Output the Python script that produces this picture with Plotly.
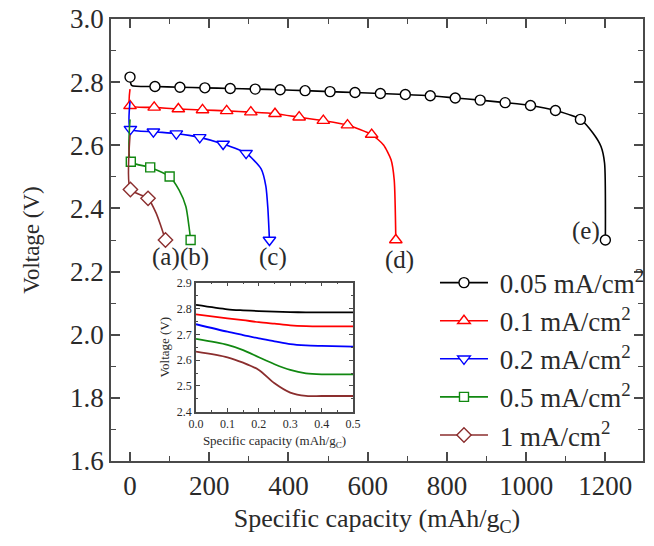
import plotly.graph_objects as go

# ---- main discharge curves: capacity (mAh/gC) vs voltage (V) ----
# each series: full curve path, plus the indices of the points that carry a symbol
cap_e = [0, 4, 63, 126, 189, 253, 316, 379, 442, 505, 568, 632, 695, 758, 821, 884, 947, 1011, 1074, 1137, 1169, 1189, 1198, 1200]
volt_e = [2.816, 2.790, 2.786, 2.784, 2.782, 2.780, 2.778, 2.776, 2.773, 2.770, 2.767, 2.764, 2.761, 2.757, 2.750, 2.743, 2.735, 2.726, 2.710, 2.682, 2.638, 2.596, 2.543, 2.300]
mark_e = [0] + list(range(2, 20)) + [23]

cap_d = [0, 0, 61, 122, 183, 244, 305, 366, 427, 488, 549, 610, 640, 659, 667, 671]
volt_d = [2.778, 2.725, 2.720, 2.715, 2.712, 2.709, 2.705, 2.700, 2.689, 2.678, 2.664, 2.634, 2.601, 2.554, 2.490, 2.300]
mark_d = [1, 2, 3, 4, 5, 6, 7, 8, 9, 10, 11, 15]

cap_c = [0, 1, 59, 117, 176, 235, 293, 331, 343, 348, 352]
volt_c = [2.739, 2.651, 2.643, 2.637, 2.625, 2.604, 2.575, 2.525, 2.470, 2.400, 2.300]
mark_c = [1, 2, 3, 4, 5, 6, 10]

cap_b = [0, 2, 51, 100, 124, 141, 149, 153]
volt_b = [2.682, 2.548, 2.530, 2.501, 2.458, 2.406, 2.342, 2.300]
mark_b = [1, 2, 3, 7]

cap_a = [0, 1, 45.5, 66, 78.5, 89.5]
volt_a = [2.633, 2.460, 2.432, 2.385, 2.342, 2.300]
mark_a = [1, 2, 5]

# ---- inset: initial part of each curve ----
ins_cap = [0, 0.1, 0.15, 0.2, 0.25, 0.3, 0.35, 0.4, 0.5]
ins_e = [2.814, 2.797, 2.793, 2.790, 2.788, 2.786, 2.785, 2.785, 2.785]
ins_d = [2.777, 2.762, 2.755, 2.747, 2.741, 2.735, 2.732, 2.731, 2.731]
ins_c = [2.739, 2.710, 2.697, 2.684, 2.673, 2.662, 2.657, 2.655, 2.652]
ins_b = [2.682, 2.659, 2.639, 2.611, 2.584, 2.562, 2.549, 2.545, 2.545]
ins_a = [2.633, 2.611, 2.590, 2.562, 2.510, 2.474, 2.461, 2.461, 2.461]

legend_names = ["0.05 mA/cm<sup>2</sup>", "0.1 mA/cm<sup>2</sup>", "0.2 mA/cm<sup>2</sup>",
                "0.5 mA/cm<sup>2</sup>", "1 mA/cm<sup>2</sup>"]
curve_tags = ["(e)", "(d)", "(c)", "(b)", "(a)"]
tag_cap = [1151, 681, 360.5, 161.6, 90.7]
tag_volt = [2.330, 2.238, 2.246, 2.246, 2.246]
inset_tag_volt = [2.802, 2.732, 2.651, 2.569, 2.469]

colors = ["#000000", "#ff0000", "#0000ff", "#118811", "#8b2e2e"]
symbols = ["circle", "triangle-up", "triangle-down", "square", "diamond"]
msizes = [10, 11, 11, 9, 11]

series = [(cap_e, volt_e, mark_e), (cap_d, volt_d, mark_d), (cap_c, volt_c, mark_c),
          (cap_b, volt_b, mark_b), (cap_a, volt_a, mark_a)]
inset_series = [ins_e, ins_d, ins_c, ins_b, ins_a]

SERIF = "Liberation Serif"
TXT = "#2a2a2a"
AX = "#4a4a4a"
PAD = "\u00a0"  # gap between legend symbol and label

fig = go.Figure()

for i, (cx, vy, mk) in enumerate(series):
    fig.add_trace(go.Scatter(
        x=cx, y=vy, mode="lines", showlegend=False, hoverinfo="skip",
        line=dict(color=colors[i], width=1.6, shape="spline", smoothing=0.6)))
    fig.add_trace(go.Scatter(
        x=[cx[j] for j in mk], y=[vy[j] for j in mk], mode="markers", showlegend=False,
        marker=dict(symbol=symbols[i], size=msizes[i], color="white",
                    line=dict(color=colors[i], width=1.4))))

# legend entries (line through symbol)
for i in range(5):
    fig.add_trace(go.Scatter(
        x=[None], y=[None], mode="lines+markers", name=PAD + legend_names[i],
        legendgroup=f"g{i}",
        line=dict(color=colors[i], width=1.6),
        marker=dict(symbol=symbols[i], size=msizes[i], color="white",
                    line=dict(color=colors[i], width=1.4))))

# inset curves
for i, vy in enumerate(inset_series):
    fig.add_trace(go.Scatter(
        x=ins_cap, y=vy, mode="lines", showlegend=False, xaxis="x2", yaxis="y2",
        line=dict(color=colors[i], width=1.8, shape="spline", smoothing=0.8)))

annotations = []
for i in range(5):
    annotations.append(dict(x=tag_cap[i], y=tag_volt[i], xref="x", yref="y", text=curve_tags[i],
                            showarrow=False, font=dict(family=SERIF, size=25, color=TXT)))
    annotations.append(dict(x=0.545, y=inset_tag_volt[i], xref="x2", yref="y2", text=curve_tags[i],
                            showarrow=False, font=dict(family=SERIF, size=13, color=TXT)))

axis_common = dict(showline=True, linecolor=AX, linewidth=1.6, mirror="allticks",
                   ticks="inside", tickcolor=AX, showgrid=False, zeroline=False)

fig.update_layout(
    width=654, height=546,
    margin=dict(l=111, r=3, t=19, b=85),
    paper_bgcolor="white", plot_bgcolor="white",
    font=dict(family=SERIF, color=TXT),
    xaxis=dict(range=[-48, 1295], tickvals=[0, 200, 400, 600, 800, 1000, 1200],
               ticklen=9, tickwidth=1.5,
               minor=dict(dtick=100, tick0=0, ticklen=5, ticks="inside", tickcolor=AX, tickwidth=1.2),
               tickfont=dict(size=27, family=SERIF, color=TXT),
               title=dict(text="Specific capacity (mAh/g<sub>C</sub>)", standoff=9,
                          font=dict(size=26, family=SERIF, color=TXT)),
               **axis_common),
    yaxis=dict(range=[1.6, 3.0], dtick=0.2, tick0=1.6, tickformat=".1f",
               ticklen=9, tickwidth=1.5,
               minor=dict(dtick=0.1, tick0=1.6, ticklen=5, ticks="inside", tickcolor=AX, tickwidth=1.2),
               tickfont=dict(size=27, family=SERIF, color=TXT),
               title=dict(text="Voltage (V)", standoff=24,
                          font=dict(size=23, family=SERIF, color=TXT)),
               **axis_common),
    xaxis2=dict(domain=[0.1598, 0.455], anchor="y2", range=[0, 0.5], dtick=0.1, tickformat=".1f",
                ticklen=4, tickwidth=1.2,
                minor=dict(dtick=0.05, ticklen=2, ticks="inside", tickcolor=AX),
                tickfont=dict(size=12, family=SERIF, color=TXT),
                title=dict(text="Specific capacity (mAh/g<sub>C</sub>)", standoff=6,
                           font=dict(size=13, family=SERIF, color=TXT)),
                **axis_common),
    yaxis2=dict(domain=[0.1115, 0.4034], anchor="x2", range=[2.4, 2.9], dtick=0.1, tickformat=".1f",
                ticklen=4, tickwidth=1.2,
                minor=dict(dtick=0.05, ticklen=2, ticks="inside", tickcolor=AX),
                tickfont=dict(size=12, family=SERIF, color=TXT),
                title=dict(text="Voltage (V)", standoff=4,
                           font=dict(size=13, family=SERIF, color=TXT)),
                **axis_common),
    legend=dict(x=0.609, y=0.458, xanchor="left", yanchor="top", bgcolor="rgba(0,0,0,0)",
                itemwidth=48, tracegroupgap=0,
                font=dict(size=27, family=SERIF, color=TXT)),
    annotations=annotations,
)

fig.write_html("out.html")
